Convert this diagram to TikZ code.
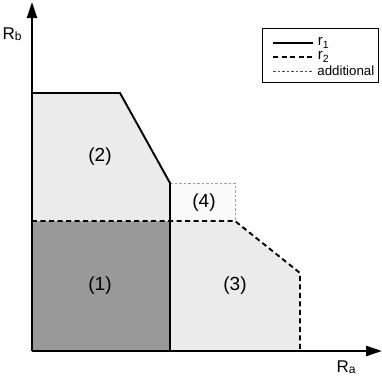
\documentclass[tikz,border=0pt]{standalone}
\usepackage{fontspec}
\setmainfont{Liberation Sans}
\usepackage{tikz}
\usetikzlibrary{arrows.meta,calc}
\usetikzlibrary{positioning}
\tikzset{axisline/.style={line width=2.4pt,-{Triangle[length=16pt,width=10pt]}},
  limone/.style={line width=1.9pt},
  limtwo/.style={line width=1.9pt,dash pattern=on 5pt off 3.5pt},
  limadd/.style={line width=0.8pt,gray!75,dash pattern=on 2.5pt off 2pt},
  regtxt/.style={font=\fontsize{19}{19}\selectfont}}

\begin{document}
\begin{tikzpicture}[x=1pt,y=1pt,>=Stealth,line join=miter]
\useasboundingbox (-32,-25) rectangle (350,351);
% --- regions
\fill[gray!80] (0,0) rectangle (138,130); % (1)
\fill[gray!16] (0,130) -- (0,258) -- (88,258) -- (138,168) -- (138,130) -- cycle; % (2)
\fill[gray!16] (138,0) -- (138,130) -- (203,130) -- (268,78) -- (268,0) -- cycle; % (3)
\fill[gray!4] (138,130) rectangle (203,168); % (4)
% --- limits
\draw[limadd] (138,168) -- (203,168) -- (203,130);
\draw[limtwo] (0,130) -- (203,130) -- (268,78) -- (268,0);
\draw[limone] (0,258) -- (88,258) -- (138,168) -- (138,0);
% --- axes
\coordinate (o) at (0,0);
\coordinate (xend) at (350,0);
\coordinate (yend) at (0,349);
\draw[axisline] (o) -- (xend);
\draw[axisline] (o) -- (yend);
\node (rb) at (-20,317) {\fontsize{17}{17}\selectfont R\raisebox{-1pt}{\fontsize{12}{12}\selectfont b}};
\node (ra) at (314,-16) {\fontsize{17}{17}\selectfont R\raisebox{-1pt}{\fontsize{12}{12}\selectfont a}};
\node[regtxt] (one) at (68,65) {(1)};
\node[regtxt] (two) at (68,194) {(2)};
\node[regtxt] (three) at (203,65) {(3)};
\node[regtxt] (four) at (172,148) {(4)};
% --- legend
\draw[line width=1pt,fill=white] (230,269) rectangle (346,323);
\draw[limone] (241,308) -- (281,308) node[right=3pt,inner sep=1pt,font=\fontsize{15}{15}\selectfont] (lone) {r\textsubscript{1}};
\draw[limtwo] (241,294) -- (281,294) node[right=3pt,inner sep=1pt,font=\fontsize{15}{15}\selectfont] (ltwo) {r\textsubscript{2}};
\draw[limadd,gray!60!black] (241,280) -- (281,280) node[right=3pt,inner sep=1pt,black,font=\fontsize{13.3}{13.3}\selectfont] (ladd) {additional};
\end{tikzpicture}
\end{document}
